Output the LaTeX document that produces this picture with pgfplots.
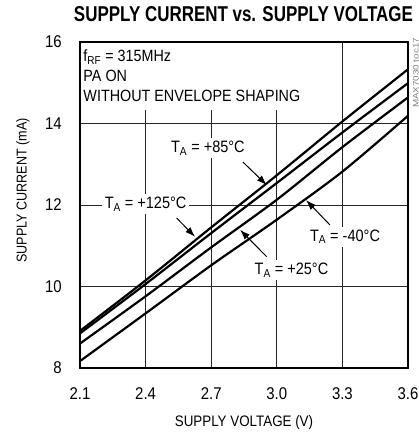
\documentclass[border=0pt]{standalone}
\usepackage{pgfplots}
\pgfplotsset{compat=1.18}
\usetikzlibrary{arrows.meta}
\usepackage{fontspec}
\setmainfont{Liberation Sans}[FakeStretch=0.88]
\begin{document}
\begin{tikzpicture}
\path[use as bounding box] (-80pt,-65pt) rectangle (339pt,368pt);
\begin{axis}[
  at={(0pt,0pt)}, anchor=south west,
  scale only axis, width=328pt, height=326pt,
  xmin=2.1, xmax=3.6, ymin=8, ymax=16,
  xtick={2.1,2.4,2.7,3.0,3.3,3.6}, xticklabels={2.1,2.4,2.7,3.0,3.3,3.6},
  ytick={8,10,12,14,16}, yticklabels={8,10,12,14,16},
  major tick length=0pt,
  grid=major, major grid style={black!85, line width=0.7pt},
  axis line style={line width=2.6pt},
  clip mode=individual,
  xticklabel style={font=\fontsize{17}{17}\selectfont, anchor=center, yshift=-26pt, inner sep=0pt},
  yticklabel style={font=\fontsize{17}{17}\selectfont, anchor=east, xshift=-18pt, inner sep=0pt},
  xlabel={SUPPLY VOLTAGE (V)},
  ylabel={SUPPLY CURRENT (mA)},
  x label style={at={(axis description cs:0.5,-0.168)}, anchor=center, font=\fontsize{15.2}{16}\selectfont},
  y label style={at={(axis description cs:-0.1738,0.545)}, anchor=center, font=\fontsize{14.3}{16}\selectfont},
]
% white area behind the conditions text
\fill[white] (rel axis cs:0,1) rectangle (axis cs:3.106,14.331);
\addplot[black, line width=2.2pt, smooth] coordinates {(2.1,8.91) (2.4,10.15) (2.7,11.45) (3.0,12.73) (3.3,14.05) (3.6,15.33)};
\addplot[black, line width=2.2pt, smooth] coordinates {(2.1,8.85) (2.4,10.06) (2.7,11.31) (3.0,12.54) (3.3,13.78) (3.6,14.99)};
\addplot[black, line width=2.2pt, smooth] coordinates {(2.1,8.60) (2.4,9.76) (2.7,10.96) (3.0,12.13) (3.3,13.42) (3.6,14.64)};
\addplot[black, line width=2.2pt, smooth] coordinates {(2.1,8.17) (2.4,9.34) (2.7,10.52) (3.0,11.64) (3.3,12.82) (3.6,14.19)};
\draw[line width=2.6pt] (rel axis cs:0,0) rectangle (rel axis cs:1,1);
% conditions
\node[anchor=base west, inner sep=0pt, font=\fontsize{16.3}{18}\selectfont] at (axis cs:2.115,15.521) {f\textsubscript{RF} = 315MHz};
\node[anchor=base west, inner sep=0pt, font=\fontsize{16.3}{18}\selectfont] at (axis cs:2.115,15.031) {PA ON};
\node[anchor=base west, inner sep=0pt, font=\fontsize{16.3}{18}\selectfont] at (axis cs:2.115,14.540) {WITHOUT ENVELOPE SHAPING};
% labels
\node[fill=white, inner sep=3pt, font=\fontsize{16.5}{18}\selectfont] at (axis cs:2.685,13.40) {T\textsubscript{A} = +85°C};
\node[fill=white, inner sep=3pt, font=\fontsize{16.5}{18}\selectfont] at (axis cs:2.40,12.02) {T\textsubscript{A} = +125°C};
\node[fill=white, inner sep=3pt, font=\fontsize{16.5}{18}\selectfont] at (axis cs:3.312,11.22) {T\textsubscript{A} = -40°C};
\node[fill=white, inner sep=3pt, font=\fontsize{16.5}{18}\selectfont] at (axis cs:3.067,10.40) {T\textsubscript{A} = +25°C};
\draw[line width=1pt, -{Latex[length=10pt,width=7pt]}] (axis cs:2.845,13.055) -- (axis cs:2.954,12.49);
\draw[line width=1pt, -{Latex[length=10pt,width=7pt]}] (axis cs:2.542,11.68) -- (axis cs:2.626,11.22);
\draw[line width=1pt, -{Latex[length=10pt,width=7pt]}] (axis cs:3.243,11.51) -- (axis cs:3.134,12.12);
\draw[line width=1pt, -{Latex[length=10pt,width=7pt]}] (axis cs:2.954,10.73) -- (axis cs:2.832,11.39);
\node[rotate=90, text=gray, inner sep=0pt] at (rel axis cs:1.024,0.905) {\resizebox{70pt}{5.5pt}{MAX7030 toc17}};
\end{axis}
\node[anchor=base, inner sep=0pt] at (163.5pt,346pt) {\resizebox{339pt}{15pt}{\bfseries SUPPLY CURRENT vs. SUPPLY VOLTAGE}};
\end{tikzpicture}
\end{document}
